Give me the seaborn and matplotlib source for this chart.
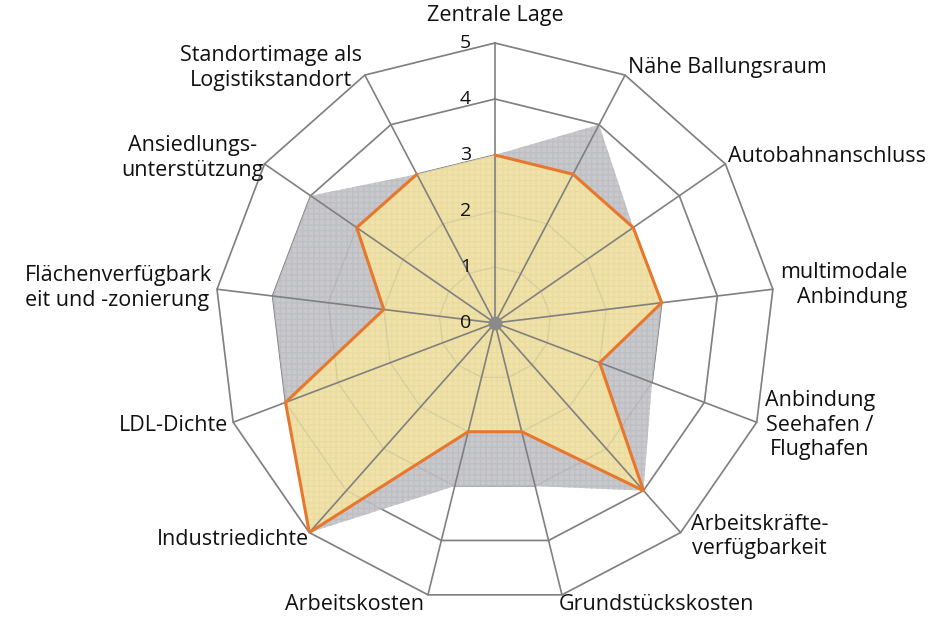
import numpy as np
import matplotlib
matplotlib.use("Agg")
import matplotlib.pyplot as plt
import seaborn as sns

# Kriterien im Uhrzeigersinn ab 12 Uhr
kriterien = ["Zentrale Lage", "Nähe Ballungsraum", "Autobahnanschluss",
             "multimodale\nAnbindung", "Anbindung\nSeehafen /\nFlughafen",
             "Arbeitskräfte-\nverfügbarkeit", "Grundstückskosten", "Arbeitskosten",
             "Industriedichte", "LDL-Dichte", "Flächenverfügbark\neit und -zonierung",
             "Ansiedlungs-\nunterstützung", "Standortimage als\nLogistikstandort"]
werte_grau = [3, 4, 3, 3, 3, 4, 3, 3, 5, 4, 4, 4, 3]
werte_orange = [3, 3, 3, 3, 2, 4, 2, 2, 5, 4, 2, 3, 3]
skala = [0, 1, 2, 3, 4, 5]

# Beschriftungs-Versatz (Pixel) je Achse
label_pos = [(0, 28, "center", "center"), (3, 8, "left", "left"), (3, 7, "left", "left"),
             (7, 4, "left", "right"), (8, -3, "left", "center"), (10, -4, "left", "center"),
             (-3, -10, "left", "center"), (-4, -10, "right", "center"), (0, -7, "right", "center"),
             (-5, -3, "right", "center"), (-5, 1, "right", "left"), (-1, 6, "right", "center"),
             (-3, 7, "right", "center")]

sns.set_theme(style="white")
plt.rcParams["font.family"] = ["Open Sans", "DejaVu Sans"]

n = len(kriterien)
theta = np.linspace(0, 2 * np.pi, n, endpoint=False)
theta_c = np.append(theta, theta[0])
grau_c = np.append(werte_grau, werte_grau[0])
orange_c = np.append(werte_orange, werte_orange[0])

fig = plt.figure(figsize=(9.47, 6.21), dpi=100)
ax = fig.add_axes([0.227, 0.029, 0.5913, 0.9018], projection="polar")
ax.set_theta_zero_location("N")
ax.set_theta_direction(-1)
ax.set_ylim(0, 5)
ax.grid(False)
ax.spines["polar"].set_visible(False)
ax.set_xticks([])
ax.set_yticks([])
ax.patch.set_alpha(0)

gitter = "#808080"
# Ringe
for r in skala[1:]:
    ax.plot(theta_c, [r] * len(theta_c), color=gitter, lw=1.2, zorder=1, clip_on=False)

# Flaechen
ax.fill(theta_c, grau_c, facecolor="#c9c9cd", edgecolor="none", zorder=2)
ax.fill(theta_c, grau_c, facecolor="none", edgecolor="#bebfc3", hatch="+++", lw=0, zorder=2)
ax.fill(theta_c, orange_c, facecolor="#f1e3a8", edgecolor="none", zorder=3)
ax.fill(theta_c, orange_c, facecolor="none", edgecolor="#e9dba1", hatch="+++", lw=0, zorder=3)

# Ringe schwach ueber den Flaechen
for r in skala[1:]:
    ax.plot(theta_c, [r] * len(theta_c), color=gitter, lw=1.0, alpha=0.18, zorder=3.5)

# Speichen
for t in theta:
    ax.plot([t, t], [0, 5], color=gitter, lw=1.2, zorder=4, clip_on=False)

sns.lineplot(x=theta_c, y=orange_c, sort=False, color="#e8772e", lw=2.2, ax=ax, zorder=5)
ax.plot([0], [0], "o", color="#8a8a8a", ms=9, zorder=6)

# Skalenbeschriftung
for r in skala:
    ax.annotate(str(r), xy=(0, r), xytext=(-24, 0), textcoords="offset pixels",
                ha="right", va="center", fontsize=14, color="#111111", zorder=7)

for t, txt, (dx, dy, ha, ma) in zip(theta, kriterien, label_pos):
    ax.annotate(txt, xy=(t, 5), xytext=(dx, dy), textcoords="offset pixels",
                ha=ha, va="center", multialignment=ma, fontsize=15.5, color="#111111",
                linespacing=1.22, annotation_clip=False)

ax.set_xlabel("")
ax.set_ylabel("")
fig.savefig("out.png", dpi=100, facecolor="white")
